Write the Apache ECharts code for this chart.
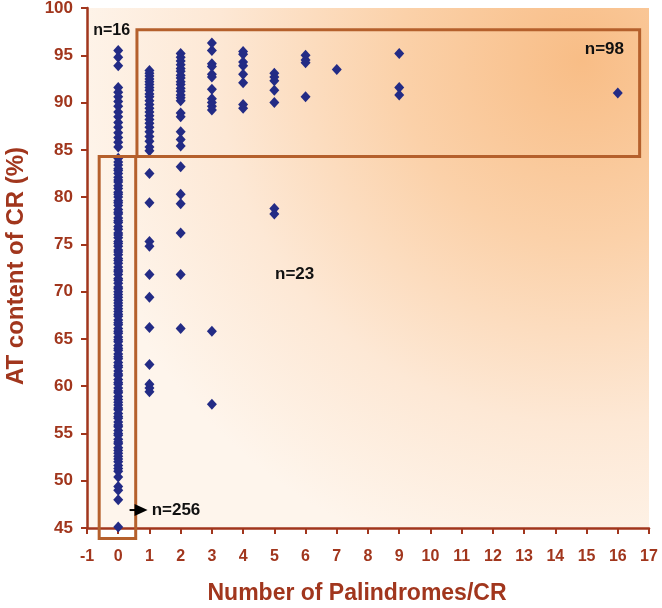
<!DOCTYPE html>
<html><head><meta charset="utf-8">
<script src="https://cdn.jsdelivr.net/npm/echarts@6/dist/echarts.min.js"></script>
<style>html,body{margin:0;padding:0;background:#fff}#c{width:662px;height:608px}</style>
</head><body><div id="c"></div>
<script>
// Number of palindromes per CR (x) and the AT contents (%) read for each
const palCounts = [0, 1, 2, 3, 4, 5, 6, 7, 9, 16];
const at0 = [95.5, 94.8, 93.9, 91.6, 91.1, 90.6, 90.1, 89.6, 89.0, 88.5, 87.9, 87.4, 86.8, 86.3, 85.8, 85.3,
  84.1, 83.7, 83.4, 83.0, 82.8, 82.5, 82.1, 81.8, 81.6, 81.2, 80.9, 80.5, 80.3, 80.0, 79.6, 79.4, 79.1, 78.7,
  78.4, 78.2, 77.8, 77.5, 77.3, 76.9, 76.6, 76.2, 76.0, 75.7, 75.3, 75.1, 74.8, 74.4, 74.2, 73.9, 73.5, 73.3,
  73.0, 72.6, 72.3, 72.1, 71.8, 71.4, 71.2, 70.9, 70.5, 70.3, 70.0, 69.7, 69.4, 69.1, 68.8, 68.5, 68.2, 67.9,
  67.6, 67.4, 67.0, 66.7, 66.5, 66.1, 65.8, 65.6, 65.2, 64.9, 64.7, 64.3, 64.0, 63.8, 63.4, 63.1, 62.9, 62.5,
  62.2, 62.0, 61.6, 61.3, 61.1, 60.7, 60.4, 60.2, 59.8, 59.5, 59.3, 58.9, 58.6, 58.3, 58.0, 57.7, 57.5, 57.1,
  56.8, 56.6, 56.2, 55.9, 55.7, 55.3, 55.0, 54.8, 54.4, 54.1, 53.9, 53.5, 53.2, 52.9, 52.6, 52.3, 52.0, 51.6,
  51.3, 51.0, 50.4, 49.4, 49.0, 48.0, 45.1];
const at1 = [93.4, 93.1, 92.8, 92.5, 92.2, 91.9, 91.6, 91.3, 90.9, 90.6, 90.2, 89.8, 89.4, 89.0, 88.6, 88.2,
  87.8, 87.4, 86.9, 86.4, 85.9, 85.3, 84.9,
  82.5, 79.4, 75.3, 74.8, 71.8, 69.4, 66.2, 62.3, 60.2, 59.8, 59.4];
const at2 = [95.2, 94.8, 94.4, 94.0, 93.6, 93.3, 92.9, 92.6, 92.2, 91.9, 91.5, 91.2, 90.8, 90.5, 90.2, 88.9,
  88.5, 86.9, 86.1, 85.4,
  83.2, 80.3, 79.3, 76.2, 71.8, 66.1];
const at3 = [96.3, 95.5, 94.1, 93.8, 93.0, 92.7, 91.4, 90.4, 90.0, 89.6, 89.2, 65.8, 58.1];
const at4 = [95.4, 95.1, 94.3, 93.9, 93.0, 92.1, 89.8, 89.4];
const at5 = [93.1, 92.7, 92.3, 91.3, 90.0, 78.8, 78.2];
const at6 = [95.0, 94.5, 94.2, 90.6];
const at7 = [93.5];
const at9 = [95.2, 91.6, 90.8];
const at16 = [91.0];
const atByCount = [at0, at1, at2, at3, at4, at5, at6, at7, at9, at16];

// Annotation boxes [x1, y1, x2, y2] in data units and group labels
const boxUpper = [0.6, 97.7, 16.7, 84.3];
const boxLower = [-0.61, 84.3, 0.56, 43.9];
const groupLabels = ['n=16', 'n=98', 'n=23', 'n=256'];

const points = [];
palCounts.forEach((c, i) => atByCount[i].forEach(v => points.push([c, v])));

const AXC = '#a1361d';
const chart = echarts.init(document.getElementById('c'), null, {renderer: 'canvas'});
const axisCommon = {
  type: 'value',
  axisLine: {show: true, onZero: false, lineStyle: {color: AXC, width: 2.5}},
  axisTick: {show: true, inside: false, length: 6, lineStyle: {color: AXC, width: 2}},
  splitLine: {show: false},
  axisLabel: {color: AXC, fontWeight: 'bold', fontFamily: 'Liberation Sans, Arial, sans-serif'}
};
chart.setOption({
  animation: false,
  backgroundColor: '#ffffff',
  grid: {
    left: 87, right: 13, top: 8, bottom: 80, containLabel: false, outerBoundsMode: 'none',
    show: true, borderWidth: 0,
    backgroundColor: {
      type: 'radial', x: 0.88, y: 0.1, r: 1.0,
      colorStops: [
        {offset: 0, color: '#f8bd86'},
        {offset: 0.35, color: '#fbd1a9'},
        {offset: 0.7, color: '#fde8d5'},
        {offset: 1, color: '#fef5ec'}
      ]
    }
  },
  xAxis: Object.assign({}, axisCommon, {
    min: -1, max: 17, interval: 1,
    axisLabel: Object.assign({}, axisCommon.axisLabel, {fontSize: 16, margin: 21})
  }),
  yAxis: Object.assign({}, axisCommon, {
    min: 45, max: 100, interval: 5,
    axisLabel: Object.assign({}, axisCommon.axisLabel, {fontSize: 17, margin: 14})
  }),
  series: [{
    type: 'scatter',
    data: points,
    symbol: 'diamond',
    symbolSize: [10, 11],
    clip: false,
    z: 5,
    itemStyle: {color: '#232b85', opacity: 1}
  }]
});

function px(x, y) { return chart.convertToPixel({gridIndex: 0}, [x, y]); }
function boxRect(b) {
  const p1 = px(b[0], b[1]), p2 = px(b[2], b[3]);
  return {
    type: 'rect', z: 10,
    shape: {x: p1[0], y: p1[1], width: p2[0] - p1[0], height: p2[1] - p1[1]},
    style: {fill: null, stroke: '#b5602c', lineWidth: 3}
  };
}
const labelFont = 'bold 17px "Liberation Sans", Arial, sans-serif';
const p16 = px(-0.21, 97.6), p98 = px(15.57, 95.6), p23 = px(5.65, 71.8), p256 = px(1.07, 46.9);
const arrowTip = px(0.94, 46.9);
chart.setOption({
  graphic: [
    boxRect(boxUpper),
    boxRect(boxLower),
    {type: 'text', z: 20, x: p16[0], y: p16[1], style: {text: groupLabels[0], font: 'bold 16px "Liberation Sans", Arial, sans-serif', fill: '#111', align: 'center', verticalAlign: 'middle'}},
    {type: 'text', z: 20, x: p98[0], y: p98[1], style: {text: groupLabels[1], font: labelFont, fill: '#111', align: 'center', verticalAlign: 'middle'}},
    {type: 'text', z: 20, x: p23[0], y: p23[1], style: {text: groupLabels[2], font: labelFont, fill: '#111', align: 'center', verticalAlign: 'middle'}},
    {type: 'text', z: 20, x: p256[0], y: p256[1], style: {text: groupLabels[3], font: labelFont, fill: '#111', align: 'left', verticalAlign: 'middle'}},
    {type: 'polygon', z: 20, shape: {points: [[arrowTip[0], arrowTip[1]], [arrowTip[0] - 13, arrowTip[1] - 6], [arrowTip[0] - 13, arrowTip[1] + 6]]}, style: {fill: '#000'}},
    {type: 'line', z: 20, shape: {x1: arrowTip[0] - 18, y1: arrowTip[1], x2: arrowTip[0] - 10, y2: arrowTip[1]}, style: {stroke: '#000', lineWidth: 2}},
    {type: 'text', z: 20, x: 357, y: 594, style: {text: 'Number of Palindromes/CR', font: 'bold 23px "Liberation Sans", Arial, sans-serif', fill: AXC, align: 'center', verticalAlign: 'middle'}},
    {type: 'text', z: 20, x: 16, y: 266, rotation: Math.PI / 2, style: {text: 'AT content of CR (%)', font: 'bold 24px "Liberation Sans", Arial, sans-serif', fill: AXC, align: 'center', verticalAlign: 'middle'}}
  ]
});
</script>
</body></html>
